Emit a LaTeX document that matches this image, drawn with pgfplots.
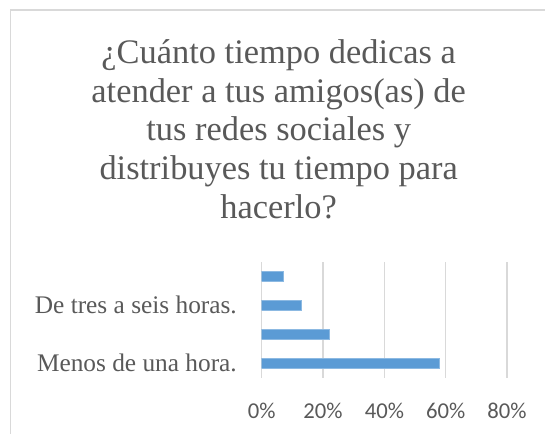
\documentclass[border=0pt]{standalone}
\usepackage{pgfplots}
\pgfplotsset{compat=1.18}
\usepackage{fontspec}
\setmainfont{Liberation Serif}
\newfontfamily\tickfont{Carlito}
\definecolor{txt}{HTML}{595959}
\definecolor{gridc}{HTML}{D9D9D9}
\definecolor{barc}{HTML}{5B9BD5}
\begin{document}
\begin{tikzpicture}
\useasboundingbox (0,0) rectangle (408.75pt,-325.5pt);
\draw[gridc, line width=1.2pt] (8pt,-330pt) -- (8pt,-7.5pt) -- (412pt,-7.5pt);
% title
\begin{scope}[every node/.style={anchor=base, text=txt, inner sep=0pt, font=\fontsize{25.8}{30}\selectfont}]
\node at (209pt,-47.5pt) {¿Cuánto tiempo dedicas a};
\node at (209pt,-76.6pt) {atender a tus amigos(as) de};
\node at (209pt,-105.6pt) {tus redes sociales y};
\node at (209pt,-134.7pt) {distribuyes tu tiempo para};
\node at (209pt,-163.7pt) {hacerlo?};
\end{scope}
\begin{axis}[
  at={(196.3pt,-283.3pt)}, anchor=south west,
  scale only axis, width=184pt, height=87pt,
  xbar, bar width=7.5pt,
  xmin=0, xmax=80, ymin=-0.5, ymax=3.5,
  xtick={0,20,40,60,80},
  xticklabels={0\%,20\%,40\%,60\%,80\%},
  ytick={0,1,2,3},
  yticklabels={Menos de una hora.,,De tres a seis horas.,},
  xmajorgrids, grid style={gridc, line width=0.9pt},
  axis line style={draw=none},
  major tick length=0pt,
  xticklabel style={font=\tickfont\fontsize{17}{20}\selectfont, text=txt, inner sep=0pt, anchor=north, yshift=-18.5pt},
  yticklabel style={font=\fontsize{19}{22}\selectfont, text=txt, inner sep=0pt, anchor=east, xshift=-18.5pt},
]
\addplot[fill=barc, draw=barc!70!white, line width=0.4pt] coordinates {(58,0) (22,1) (13,2) (7,3)};
\end{axis}
\end{tikzpicture}
\end{document}
